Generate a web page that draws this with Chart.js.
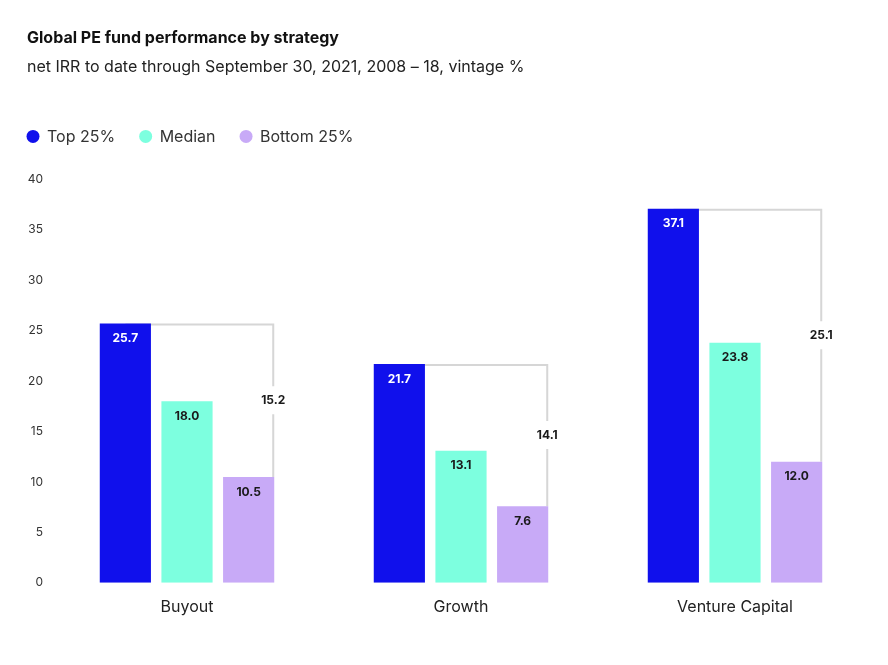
<!DOCTYPE html>
<html>
<head>
<meta charset="utf-8">
<script src="https://cdn.jsdelivr.net/npm/chart.js@4"></script>
<style>
  html, body { margin: 0; padding: 0; background: #fff; }
  #wrap { width: 888px; height: 665px; position: relative; }
</style>
</head>
<body>
<div id="wrap"><canvas id="peChart"></canvas></div>
<script>
// Data
const categories = ['Buyout', 'Growth', 'Venture Capital'];
const seriesNames = ['Top 25%', 'Median', 'Bottom 25%'];
const top25 = [25.7, 21.7, 37.1];
const median = [18.0, 13.1, 23.8];
const bottom25 = [10.5, 7.6, 12.0];
const spread = [15.2, 14.1, 25.1];
const yTicks = [0, 5, 10, 15, 20, 25, 30, 35, 40];

const colors = ['#1010EC', '#7DFFDF', '#C8AAF7'];
const labelColors = ['#ffffff', '#1a1a1a', '#1a1a1a'];
const fontFamily = 'Inter, "Noto Sans", sans-serif';

// Value labels inside bar tops
const valueLabels = {
    id: 'valueLabels',
    afterDatasetsDraw(chart) {
        const ctx = chart.ctx;
        ctx.save();
        ctx.font = 'bold 12px ' + fontFamily;
        ctx.textAlign = 'center';
        ctx.textBaseline = 'middle';
        chart.data.datasets.forEach((ds, i) => {
            chart.getDatasetMeta(i).data.forEach((bar, j) => {
                ctx.fillStyle = labelColors[i];
                ctx.fillText(ds.data[j].toFixed(1), bar.x, bar.y + 15);
            });
        });
        ctx.restore();
    }
};

// Bracket between top and bottom quartile with the spread label
const spreadBracket = {
    id: 'spreadBracket',
    beforeDatasetsDraw(chart) {
        const ctx = chart.ctx;
        const topMeta = chart.getDatasetMeta(0);
        const botMeta = chart.getDatasetMeta(2);
        const yScale = chart.scales.y;
        ctx.save();
        ctx.strokeStyle = '#d6d6d6';
        ctx.lineWidth = 2;
        categories.forEach((c, j) => {
            const tb = topMeta.data[j];
            const bb = botMeta.data[j];
            const xr = bb.x + bb.width / 2 - 1;
            const yTop = tb.y + 1;
            const yMid = yScale.getPixelForValue((top25[j] + bottom25[j]) / 2);
            ctx.beginPath();
            ctx.moveTo(tb.x, yTop);
            ctx.lineTo(xr, yTop);
            ctx.lineTo(xr, yMid - 14);
            ctx.moveTo(xr, yMid + 14);
            ctx.lineTo(xr, bb.y);
            ctx.stroke();
            ctx.fillStyle = '#1a1a1a';
            ctx.font = 'bold 12px ' + fontFamily;
            ctx.textAlign = 'center';
            ctx.textBaseline = 'middle';
            ctx.fillText(spread[j].toFixed(1), xr, yMid);
        });
        ctx.restore();
    }
};

// Legend row drawn above the plot, aligned with the title
const legendRow = {
    id: 'legendRow',
    afterDraw(chart) {
        const ctx = chart.ctx;
        const y = chart.chartArea.top - 43;
        let x = 27;
        ctx.save();
        ctx.font = '16px ' + fontFamily;
        ctx.textBaseline = 'middle';
        ctx.textAlign = 'left';
        seriesNames.forEach((name, i) => {
            ctx.fillStyle = colors[i];
            ctx.beginPath();
            ctx.arc(x + 6, y, 6.5, 0, Math.PI * 2);
            ctx.fill();
            ctx.fillStyle = '#333';
            ctx.fillText(name, x + 20, y + 1);
            x += 20 + ctx.measureText(name).width + 24.5;
        });
        ctx.restore();
    }
};

new Chart(document.getElementById('peChart'), {
    type: 'bar',
    data: {
        labels: categories,
        datasets: [
            { label: seriesNames[0], data: top25, backgroundColor: colors[0] },
            { label: seriesNames[1], data: median, backgroundColor: colors[1] },
            { label: seriesNames[2], data: bottom25, backgroundColor: colors[2] }
        ]
    },
    options: {
        responsive: true,
        maintainAspectRatio: false,
        animation: false,
        categoryPercentage: 0.675,
        barPercentage: 0.83,
        layout: { padding: { left: 27, right: 16, top: 29, bottom: 33 } },
        plugins: {
            title: {
                display: true,
                text: 'Global PE fund performance by strategy',
                align: 'start',
                color: '#111',
                font: { family: fontFamily, size: 16, weight: 'bold' },
                padding: { top: 0, bottom: 9 }
            },
            subtitle: {
                display: true,
                text: 'net IRR to date through September 30, 2021, 2008 – 18, vintage %',
                align: 'start',
                color: '#222',
                font: { family: fontFamily, size: 16 },
                padding: { top: 0, bottom: 103 }
            },
            legend: { display: false },
            tooltip: { enabled: false }
        },
        scales: {
            x: {
                grid: { display: false, drawTicks: false },
                border: { display: false },
                ticks: { color: '#222', font: { family: fontFamily, size: 16 }, padding: 15 }
            },
            y: {
                min: 0,
                max: 40,
                afterBuildTicks: (axis) => { axis.ticks = yTicks.map(v => ({ value: v })); },
                afterFit: (axis) => { axis.width = 23; },
                grid: { display: false, drawTicks: false },
                border: { display: false },
                ticks: { color: '#333', font: { family: fontFamily, size: 12 }, padding: 7 }
            }
        }
    },
    plugins: [spreadBracket, valueLabels, legendRow]
});
</script>
</body>
</html>
